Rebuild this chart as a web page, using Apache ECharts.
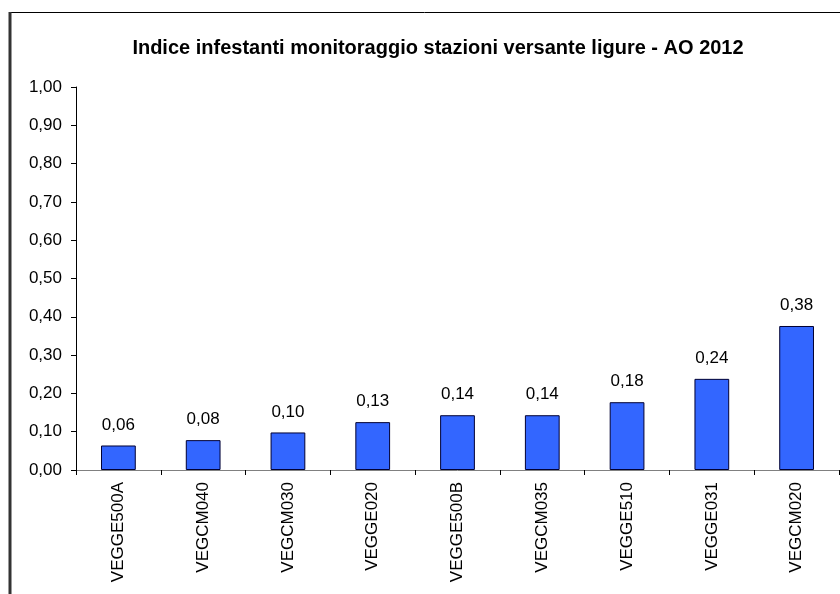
<!DOCTYPE html>
<html>
<head>
<meta charset="utf-8">
<script src="https://cdn.jsdelivr.net/npm/echarts@6/dist/echarts.min.js"></script>
<style>
  html, body { margin: 0; padding: 0; background: #fff; }
  #chart { width: 840px; height: 594px; }
</style>
</head>
<body>
<div id="chart"></div>
<script>
const titleText = 'Indice infestanti monitoraggio stazioni versante ligure - AO 2012'
const stations = ['VEGGE500A', 'VEGCM040', 'VEGCM030', 'VEGGE020', 'VEGGE500B', 'VEGCM035', 'VEGGE510', 'VEGGE031', 'VEGCM020']
const indexValues = [0.064, 0.078, 0.098, 0.125, 0.143, 0.143, 0.177, 0.238, 0.376]
const yTicks = { min: 0, max: 1, step: 0.1 }

const fmt = v => v.toFixed(2).replace('.', ',')
const font = 'Liberation Sans, Arial, sans-serif'

const chart = echarts.init(document.getElementById('chart'))

const option = {
  backgroundColor: '#fff',
  animation: false,
  title: {
    text: titleText,
    left: 433,
    textAlign: 'center',
    top: 33,
    textStyle: { fontFamily: font, fontSize: 20, fontWeight: 'bold', color: '#000' }
  },
  grid: { left: 76, right: 1, top: 87, bottom: 124 },
  xAxis: {
    type: 'category',
    data: stations,
    axisLine: { lineStyle: { color: '#808080', width: 1 } },
    axisTick: { show: true, length: 5, lineStyle: { color: '#000' } },
    axisLabel: { rotate: 90, margin: 12, fontFamily: font, fontSize: 17, color: '#000' }
  },
  yAxis: {
    type: 'value',
    min: yTicks.min,
    max: yTicks.max,
    interval: yTicks.step,
    axisLine: { show: true, lineStyle: { color: '#000', width: 1 } },
    axisTick: { show: true, length: 5, lineStyle: { color: '#000' } },
    splitLine: { show: false },
    axisLabel: { margin: 14, fontFamily: font, fontSize: 17, color: '#000', formatter: fmt }
  },
  series: [{
    type: 'bar',
    data: indexValues,
    barWidth: '41%',
    itemStyle: { color: '#3366ff', borderColor: '#000033', borderWidth: 1 },
    label: {
      show: true,
      position: 'top',
      distance: 12,
      fontFamily: font,
      fontSize: 17,
      color: '#000',
      formatter: p => fmt(p.value)
    }
  }],
  graphic: [
    { type: 'line', shape: { x1: 9, y1: 12.5, x2: 840, y2: 12.5 }, style: { stroke: '#000', lineWidth: 1 } },
    { type: 'line', shape: { x1: 10, y1: 12, x2: 10, y2: 594 }, style: { stroke: '#333', lineWidth: 3 } }
  ]
}

chart.setOption(option)
window.addEventListener('resize', () => chart.resize())
</script>
</body>
</html>
